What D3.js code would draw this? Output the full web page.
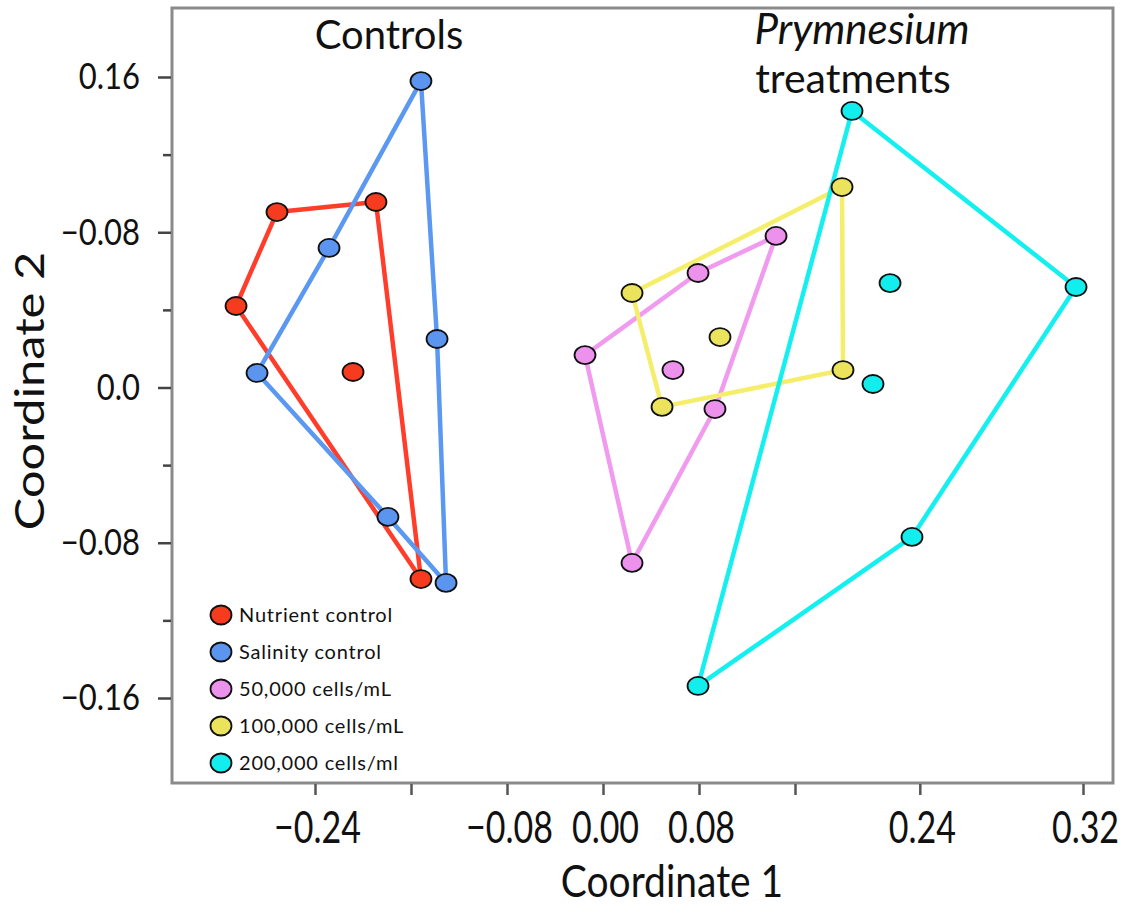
<!DOCTYPE html>
<html>
<head>
<meta charset="utf-8">
<script src="https://cdn.jsdelivr.net/npm/d3@7"></script>
<style>
  body { margin: 0; background: #fff; }
  text { font-family: Lato, "Open Sans", sans-serif; fill: #111; }
</style>
</head>
<body>
<div id="chart-area"></div>
<script>
// PCoA coordinates. Hull points are in polygon order.
const nutrientHull = [[-0.2717, 0.0904], [-0.1892, 0.0956], [-0.1517, -0.0987], [-0.3058, 0.0420]]
const nutrientInner = [[-0.2083, 0.0080]]
const salinityHull = [[-0.1517, 0.1579], [-0.1383, 0.0250], [-0.1308, -0.1007], [-0.1792, -0.0667], [-0.2883, 0.0075], [-0.2283, 0.0719]]
const salinityInner = []
const cells50Hull = [[-0.0150, 0.0167], [0.0792, 0.0590], [0.1442, 0.0781], [0.0933, -0.0111], [0.0242, -0.0904]]
const cells50Inner = [[0.0583, 0.0090]]
const cells100Hull = [[0.0242, 0.0487], [0.1992, 0.1033], [0.2000, 0.0090], [0.0492, -0.0100]]
const cells100Inner = [[0.0975, 0.0260]]
const cells200Hull = [[0.2075, 0.1425], [0.3942, 0.0518], [0.2575, -0.0770], [0.0792, -0.1538]]
const cells200Inner = [[0.2392, 0.0538], [0.2250, 0.0018]]

const seriesNames = ['Nutrient control', 'Salinity control', '50,000 cells/mL', '100,000 cells/mL', '200,000 cells/ml']

// axis ticks as printed on the original figure
const xTickVals = [-0.24, -0.16, -0.08, 0, 0.08, 0.16, 0.264, 0.40]
const xTickLabels = ['\u22120.24', '', '\u22120.08', '0.00', '0.08', '', '0.24', '0.32']
const yTickVals = [0.16, 0.12, 0.08, 0.04, 0, -0.04, -0.08, -0.12, -0.16]
const yTickLabels = ['0.16', '', '\u22120.08', '', '0.0', '', '\u22120.08', '', '\u22120.16']

const fills = ['#f73b1e', '#5b95ef', '#ec92ec', '#ebe35c', '#12eeee']
const strokes = ['#ff3d2a', '#5b98f2', '#f09af0', '#f5ee6a', '#14f0f0']

const groups = [
    { hull: nutrientHull, inner: nutrientInner },
    { hull: salinityHull, inner: salinityInner },
    { hull: cells50Hull, inner: cells50Inner },
    { hull: cells100Hull, inner: cells100Inner },
    { hull: cells200Hull, inner: cells200Inner }
]

const W = 1123, H = 909
const frame = { left: 172, top: 8, right: 1113, bottom: 783 }

const svg = d3.select('#chart-area').append('svg')
    .attr('width', W)
    .attr('height', H)

const x = d3.scaleLinear().domain([-0.24, 0.08]).range([315, 699])
const y = d3.scaleLinear().domain([-0.16, 0.16]).range([698, 77])

// frame
svg.append('rect')
    .attr('x', frame.left)
    .attr('y', frame.top)
    .attr('width', frame.right - frame.left)
    .attr('height', frame.bottom - frame.top)
    .attr('fill', 'none')
    .attr('stroke', '#8a8a8a')
    .attr('stroke-width', 3)

// x axis (the original text is tall and narrow, so stretch it a bit)
const xAxisCall = d3.axisBottom(x)
    .tickValues(xTickVals)
    .tickSize(11)
    .tickFormat((d, i) => xTickLabels[i])
const xAxis = svg.append('g')
    .attr('transform', `translate(0, ${frame.bottom + 1})`)
    .call(xAxisCall)
xAxis.select('.domain').remove()
xAxis.selectAll('line').attr('stroke', '#555').attr('stroke-width', 2.5)
xAxis.selectAll('text')
    .attr('y', 0)
    .attr('dy', '0.71em')
    .attr('transform', 'translate(2, 28) scale(1, 1.3)')
    .attr('font-size', '34px')
    .attr('font-family', 'Lato, sans-serif')
    .attr('fill', '#111')

// y axis
const yAxisCall = d3.axisLeft(y)
    .tickValues(yTickVals)
    .tickSize(13)
    .tickPadding(18)
    .tickFormat((d, i) => yTickLabels[i])
const yAxis = svg.append('g')
    .attr('transform', `translate(${frame.left - 1}, 0)`)
    .call(yAxisCall)
yAxis.select('.domain').remove()
yAxis.selectAll('line')
    .attr('stroke', '#444')
    .attr('stroke-width', 2.5)
    .attr('x2', (d, i) => yTickLabels[i] === '' ? -8 : -13)
yAxis.selectAll('text')
    .attr('transform', 'scale(1, 1.2)')
    .attr('font-size', '31px')
    .attr('font-family', 'Lato, sans-serif')
    .attr('fill', '#111')

// axis titles
svg.append('text')
    .attr('transform', 'translate(672, 897) scale(1, 1.12)')
    .attr('font-size', '39px')
    .attr('text-anchor', 'middle')
    .text('Coordinate 1')

svg.append('text')
    .attr('transform', 'translate(44, 391) rotate(-90) scale(1.22, 1)')
    .attr('font-size', '40px')
    .attr('text-anchor', 'middle')
    .text('Coordinate 2')

// panel titles
svg.append('text')
    .attr('x', 389)
    .attr('y', 49)
    .attr('font-size', '40px')
    .attr('text-anchor', 'middle')
    .text('Controls')

svg.append('text')
    .attr('x', 862)
    .attr('y', 44)
    .attr('font-size', '42px')
    .attr('font-style', 'italic')
    .attr('text-anchor', 'middle')
    .text('Prymnesium')

svg.append('text')
    .attr('x', 853)
    .attr('y', 93)
    .attr('font-size', '41px')
    .attr('text-anchor', 'middle')
    .text('treatments')

// hulls
const line = d3.line()
    .x(d => x(d[0]))
    .y(d => y(d[1]))
    .curve(d3.curveLinearClosed)

svg.selectAll('path.hull').data(groups)
    .enter()
    .append('path')
    .attr('class', 'hull')
    .attr('d', d => line(d.hull))
    .attr('fill', 'none')
    .attr('stroke', (d, i) => strokes[i])
    .attr('stroke-width', 4.5)
    .attr('stroke-linejoin', 'round')

// points
const points = groups.flatMap((g, i) => g.hull.concat(g.inner).map(p => ({ p, i })))
svg.selectAll('ellipse.pt').data(points)
    .enter()
    .append('ellipse')
    .attr('class', 'pt')
    .attr('cx', d => x(d.p[0]))
    .attr('cy', d => y(d.p[1]))
    .attr('rx', 10.5)
    .attr('ry', 9)
    .attr('fill', d => fills[d.i])
    .attr('stroke', '#111')
    .attr('stroke-width', 1.8)

// legend
const legend = svg.append('g').attr('transform', 'translate(221, 615)')
const rows = legend.selectAll('g').data(seriesNames)
    .enter()
    .append('g')
    .attr('transform', (d, i) => `translate(0, ${i * 37})`)
rows.append('ellipse')
    .attr('rx', 10.5)
    .attr('ry', 9.5)
    .attr('fill', (d, i) => fills[i])
    .attr('stroke', '#111')
    .attr('stroke-width', 1.8)
rows.append('text')
    .attr('x', 18)
    .attr('y', 7)
    .attr('font-size', '20px')
    .attr('letter-spacing', '0.8px')
    .attr('fill', '#222')
    .text(d => d)
</script>
</body>
</html>
